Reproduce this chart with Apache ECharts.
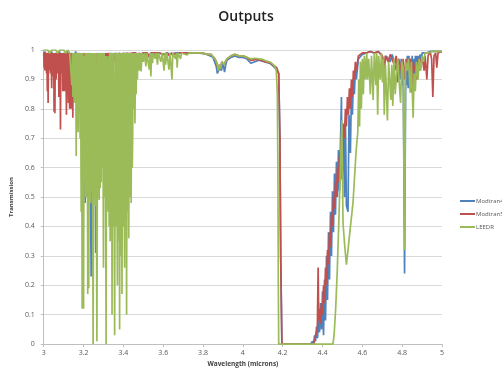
<!DOCTYPE html>
<html><head><meta charset="utf-8">
<script src="https://cdn.jsdelivr.net/npm/echarts@6/dist/echarts.min.js"></script>
<style>html,body{margin:0;padding:0;background:#fff}#c{width:502px;height:373px}</style>
</head><body><div id="c"></div>
<script>
var seriesNames = ["Modtran4", "Modtran5", "LEEDR"];
var xTicks = ["3","3.2","3.4","3.6","3.8","4","4.2","4.4","4.6","4.8","5"];

// Modtran4 [wavelength (microns), transmission]
var modtran4 = [
[3.000,0.995],[3.010,0.97],[3.020,0.99],[3.030,0.96],[3.040,0.995],[3.050,0.95],[3.060,0.99],[3.070,0.96],[3.080,0.995],[3.090,0.95],
[3.100,0.99],[3.110,0.96],[3.120,0.995],[3.130,0.97],[3.140,0.99],[3.150,0.96],[3.160,0.995],[3.170,0.97],[3.180,0.99],[3.190,0.95],
[3.200,0.99],[3.208,0.48],[3.212,0.99],[3.220,0.93],[3.230,0.99],[3.238,0.23],[3.242,0.99],[3.250,0.92],[3.256,0.99],[3.261,0.31],
[3.265,0.99],[3.275,0.94],[3.282,0.99],[3.290,0.79],[3.294,0.99],[3.305,0.95],[3.312,0.99],[3.318,0.6],[3.322,0.99],[3.335,0.68],
[3.340,0.99],[3.350,0.97],[3.36,0.99],[3.37,0.975],[3.38,0.99],[3.39,0.97],[3.40,0.99],[3.41,0.975],[3.42,0.99],[3.43,0.98],
[3.44,0.99],[3.45,0.98],[3.46,0.99],[3.48,0.985],[3.50,0.99],[3.52,0.98],[3.54,0.99],[3.56,0.985],[3.58,0.99],[3.60,0.985],
[3.62,0.99],[3.64,0.985],[3.66,0.99],[3.70,0.99],[3.74,0.99],[3.78,0.99],[3.82,0.985],[3.85,0.975],[3.866,0.945],[3.872,0.92],
[3.878,0.915],[3.884,0.94],[3.892,0.93],[3.90,0.955],[3.908,0.925],[3.914,0.95],[3.92,0.965],[3.93,0.97],[3.94,0.975],[3.96,0.98],
[3.98,0.975],[4.00,0.975],[4.02,0.97],[4.03,0.965],[4.04,0.955],[4.05,0.955],[4.06,0.96],[4.07,0.962],[4.08,0.965],[4.10,0.962],
[4.12,0.958],[4.14,0.953],[4.15,0.948],[4.16,0.94],[4.17,0.935],[4.18,0.92],[4.186,0.7],[4.19,0.3],[4.196,0.0],[4.34,0.0],
[4.35,0.01],[4.355,0.0],[4.36,0.03],[4.365,0.01],[4.37,0.06],[4.375,0.02],[4.38,0.1],[4.385,0.04],[4.39,0.14],[4.395,0.05],
[4.40,0.18],[4.405,0.03],[4.41,0.22],[4.415,0.08],[4.42,0.3],[4.425,0.15],[4.43,0.38],[4.435,0.22],[4.44,0.45],[4.445,0.3],
[4.45,0.52],[4.455,0.38],[4.46,0.58],[4.465,0.44],[4.47,0.62],[4.475,0.5],[4.48,0.66],[4.485,0.52],[4.49,0.68],[4.495,0.84],
[4.498,0.56],[4.505,0.72],[4.51,0.5],[4.515,0.76],[4.52,0.47],[4.528,0.45],[4.533,0.78],[4.54,0.65],[4.545,0.86],[4.55,0.78],
[4.555,0.9],[4.56,0.85],[4.565,0.94],[4.57,0.9],[4.58,0.97],[4.59,0.975],[4.60,0.985],[4.62,0.99],[4.64,0.995],[4.66,0.99],
[4.68,0.995],[4.70,0.98],[4.71,0.95],[4.72,0.98],[4.74,0.96],[4.75,0.985],[4.77,0.93],[4.78,0.97],[4.79,0.9],[4.795,0.97],
[4.80,0.88],[4.805,0.96],[4.812,0.24],[4.818,0.96],[4.822,0.88],[4.826,0.98],[4.83,0.87],[4.834,0.98],[4.838,0.88],[4.842,0.97],
[4.846,0.87],[4.85,0.98],[4.854,0.89],[4.858,0.97],[4.862,0.88],[4.866,0.98],[4.87,0.9],[4.874,0.98],[4.878,0.91],[4.882,0.98],
[4.886,0.93],[4.89,0.985],[4.895,0.95],[4.90,0.99],[4.92,0.99],[4.94,0.995],[4.96,0.995],[4.98,0.995],[5.00,0.995]
];

// Modtran5 [wavelength (microns), transmission]
var modtran5 = [
[3.000,0.99],[3.002,0.94],[3.004,0.99],[3.006,0.93],[3.008,0.995],[3.010,0.95],[3.012,0.99],[3.014,0.92],[3.016,0.99],[3.018,0.86],
[3.020,0.99],[3.022,0.82],[3.024,0.99],[3.026,0.93],[3.028,0.995],[3.030,0.94],[3.032,0.99],[3.034,0.92],[3.036,0.99],[3.038,0.95],
[3.040,0.87],[3.042,0.99],[3.044,0.93],[3.046,0.99],[3.048,0.91],[3.050,0.99],[3.052,0.79],[3.054,0.99],[3.056,0.785],[3.058,0.99],
[3.060,0.93],[3.062,0.90],[3.064,0.99],[3.066,0.94],[3.068,0.99],[3.070,0.92],[3.072,0.99],[3.074,0.95],[3.076,0.84],[3.078,0.99],
[3.080,0.93],[3.082,0.99],[3.084,0.73],[3.086,0.99],[3.088,0.94],[3.090,0.99],[3.092,0.92],[3.094,0.99],[3.096,0.86],[3.098,0.99],
[3.100,0.94],[3.102,0.99],[3.104,0.86],[3.106,0.99],[3.108,0.93],[3.110,0.99],[3.112,0.92],[3.114,0.78],[3.116,0.99],[3.118,0.94],
[3.120,0.99],[3.122,0.91],[3.124,0.82],[3.126,0.99],[3.128,0.93],[3.130,0.80],[3.132,0.99],[3.134,0.94],[3.136,0.99],[3.138,0.80],
[3.140,0.99],[3.142,0.93],[3.144,0.99],[3.146,0.77],[3.148,0.99],[3.150,0.94],[3.152,0.99],[3.154,0.95],[3.156,0.99],[3.158,0.88],
[3.160,0.99],[3.162,0.96],[3.164,0.99],[3.168,0.97],[3.172,0.99],[3.176,0.95],[3.180,0.99],[3.184,0.93],[3.188,0.99],[3.192,0.90],
[3.196,0.99],[3.200,0.82],[3.204,0.99],[3.208,0.90],[3.211,0.50],[3.214,0.99],[3.218,0.92],[3.222,0.99],[3.226,0.80],[3.230,0.99],
[3.234,0.88],[3.238,0.50],[3.242,0.99],[3.246,0.85],[3.250,0.99],[3.254,0.90],[3.258,0.99],[3.261,0.50],[3.264,0.99],[3.268,0.88],
[3.272,0.99],[3.276,0.92],[3.280,0.99],[3.284,0.90],[3.288,0.99],[3.292,0.95],[3.296,0.99],[3.300,0.93],[3.304,0.99],[3.308,0.90],
[3.312,0.99],[3.315,0.46],[3.318,0.99],[3.322,0.96],[3.326,0.99],[3.330,0.97],[3.334,0.99],[3.338,0.96],[3.342,0.98],[3.346,0.95],
[3.350,0.99],[3.354,0.96],[3.358,0.98],[3.362,0.95],[3.366,0.99],[3.370,0.96],[3.374,0.98],[3.378,0.97],[3.382,0.99],[3.386,0.96],
[3.390,0.98],[3.394,0.97],[3.398,0.99],[3.402,0.97],[3.406,0.99],[3.410,0.98],[3.414,0.99],[3.418,0.97],[3.422,0.99],[3.426,0.98],
[3.430,0.99],[3.434,0.975],[3.438,0.99],[3.442,0.98],[3.446,0.99],[3.450,0.985],[3.46,0.99],[3.47,0.98],[3.48,0.99],[3.49,0.975],
[3.50,0.99],[3.51,0.985],[3.52,0.99],[3.53,0.975],[3.54,0.99],[3.55,0.985],[3.56,0.99],[3.58,0.99],[3.60,0.985],[3.62,0.99],
[3.63,0.98],[3.64,0.99],[3.66,0.985],[3.68,0.99],[3.72,0.99],[3.76,0.99],[3.80,0.99],[3.82,0.985],[3.84,0.985],[3.86,0.97],
[3.870,0.955],[3.876,0.93],[3.882,0.95],[3.888,0.935],[3.894,0.96],[3.900,0.965],[3.906,0.95],[3.912,0.96],[3.92,0.97],[3.93,0.975],
[3.94,0.98],[3.96,0.985],[3.98,0.98],[4.00,0.98],[4.02,0.975],[4.03,0.97],[4.04,0.965],[4.05,0.97],[4.07,0.968],[4.09,0.965],
[4.11,0.96],[4.13,0.958],[4.15,0.95],[4.16,0.945],[4.17,0.94],[4.18,0.92],[4.186,0.7],[4.19,0.3],[4.196,0.0],[4.355,0.0],
[4.36,0.01],[4.365,0.03],[4.37,0.04],[4.374,0.06],[4.378,0.26],[4.381,0.08],[4.385,0.12],[4.39,0.07],[4.395,0.14],[4.40,0.1],
[4.405,0.2],[4.41,0.14],[4.415,0.26],[4.42,0.2],[4.425,0.32],[4.43,0.27],[4.435,0.38],[4.44,0.33],[4.445,0.44],[4.45,0.4],
[4.455,0.5],[4.46,0.46],[4.465,0.55],[4.47,0.5],[4.475,0.6],[4.48,0.55],[4.485,0.64],[4.49,0.6],[4.495,0.7],[4.50,0.64],
[4.505,0.75],[4.51,0.7],[4.515,0.8],[4.52,0.74],[4.525,0.84],[4.53,0.78],[4.535,0.87],[4.54,0.8],[4.545,0.9],[4.55,0.84],
[4.555,0.93],[4.56,0.9],[4.565,0.96],[4.57,0.93],[4.58,0.98],[4.59,0.975],[4.60,0.99],[4.62,0.99],[4.64,0.995],[4.66,0.99],
[4.68,0.995],[4.70,0.98],[4.71,0.93],[4.715,0.98],[4.73,0.96],[4.74,0.985],[4.76,0.95],[4.77,0.98],[4.776,0.89],[4.782,0.97],
[4.79,0.95],[4.80,0.91],[4.805,0.97],[4.812,0.9],[4.82,0.97],[4.83,0.94],[4.84,0.97],[4.85,0.855],[4.855,0.96],[4.865,0.93],
[4.875,0.9],[4.88,0.97],[4.89,0.95],[4.90,0.98],[4.91,0.93],[4.915,0.98],[4.924,0.9],[4.93,0.98],[4.94,0.995],[4.948,0.97],
[4.954,0.84],[4.96,0.98],[4.968,0.99],[4.974,0.94],[4.98,0.99],[4.99,0.995],[5.00,0.995]
];

// LEEDR [wavelength (microns), transmission]
var leedr = [
[3.000,1.0],[3.01,0.995],[3.02,1.0],[3.03,0.99],[3.04,1.0],[3.05,0.995],[3.06,1.0],[3.07,0.99],[3.08,1.0],[3.09,0.995],
[3.10,1.0],[3.11,0.99],[3.12,1.0],[3.13,0.99],[3.136,0.995],[3.1390,0.99],[3.1415,0.88],[3.1440,0.99],[3.1465,0.84],[3.1490,0.99],
[3.1515,0.9],[3.1540,0.99],[3.1565,0.82],[3.1590,0.99],[3.1615,0.86],[3.1630,0.64],[3.1650,0.99],[3.1675,0.78],[3.1700,0.99],[3.1725,0.72],
[3.1750,0.99],[3.1775,0.8],[3.1800,0.99],[3.1825,0.7],[3.1850,0.99],[3.1880,0.45],[3.1900,0.99],[3.1930,0.12],[3.1960,0.99],[3.2000,0.12],
[3.2030,0.98],[3.2060,0.55],[3.2085,0.99],[3.2110,0.5],[3.2135,0.99],[3.2160,0.52],[3.2185,0.99],[3.2210,0.17],[3.2235,0.99],[3.2260,0.19],
[3.2285,0.99],[3.2310,0.5],[3.2335,0.99],[3.2360,0.48],[3.2385,0.99],[3.2410,0.52],[3.2435,0.99],[3.2480,0.0],[3.2520,0.99],[3.2545,0.5],
[3.2570,0.99],[3.2595,0.47],[3.2620,0.99],[3.2670,0.01],[3.2710,0.99],[3.2735,0.5],[3.2760,0.99],[3.2785,0.49],[3.2810,0.99],[3.2835,0.53],
[3.2860,0.99],[3.2885,0.55],[3.2910,0.99],[3.2935,0.6],[3.2960,0.99],[3.3000,0.26],[3.3040,0.99],[3.3080,0.5],[3.3100,0.98],[3.3130,0.0],
[3.3160,0.98],[3.3185,0.5],[3.3210,0.97],[3.3235,0.45],[3.3260,0.98],[3.3285,0.4],[3.3310,0.99],[3.3335,0.35],[3.3360,0.99],[3.3385,0.42],
[3.3410,0.99],[3.3430,0.1],[3.3455,0.99],[3.3480,0.4],[3.3505,0.99],[3.3560,0.03],[3.3600,0.99],[3.3625,0.4],[3.3650,0.99],[3.3700,0.2],
[3.3730,0.99],[3.3755,0.35],[3.3780,0.99],[3.3810,0.05],[3.3840,0.99],[3.3865,0.3],[3.3890,0.99],[3.3930,0.17],[3.3960,0.99],[3.3985,0.4],
[3.4010,0.99],[3.4060,0.26],[3.4090,0.99],[3.4115,0.42],[3.4140,0.99],[3.4160,0.1],[3.4185,0.99],[3.4210,0.45],[3.4235,0.99],[3.4270,0.36],
[3.4300,0.99],[3.4325,0.5],[3.4350,0.99],[3.4390,0.48],[3.4420,0.99],[3.4445,0.6],[3.4465,0.7],[3.4490,0.99],[3.4520,0.8],[3.4550,0.99],
[3.4580,0.75],[3.4610,0.99],[3.4640,0.85],[3.4670,0.99],[3.4700,0.9],[3.4740,0.99],[3.4790,0.93],[3.4830,0.99],[3.4890,0.927],[3.4930,0.99],
[3.5000,0.96],[3.5060,0.99],[3.5130,0.944],[3.5180,0.99],[3.5240,0.96],[3.5300,0.933],[3.5340,0.99],[3.5380,0.91],[3.5420,0.99],[3.5460,0.955],
[3.5500,0.99],[3.5600,0.97],[3.5650,0.99],[3.5710,0.95],[3.5760,0.99],[3.5880,0.96],[3.5950,0.99],[3.6040,0.93],[3.6090,0.99],[3.6120,0.95],
[3.6180,0.99],[3.6290,0.933],[3.6340,0.99],[3.6440,0.9],[3.6480,0.99],[3.6620,0.97],[3.6670,0.99],[3.6700,0.94],[3.6740,0.99],[3.6870,0.97],
[3.6920,0.99],[3.7200,0.983],[3.7300,0.99],[3.7500,0.99],[3.7800,0.99],[3.8000,0.99],[3.8200,0.985],[3.8400,0.985],[3.8600,0.97],[3.8700,0.955],
[3.8760,0.93],[3.8820,0.95],[3.8880,0.935],[3.8940,0.96],[3.9000,0.965],[3.9060,0.95],[3.9120,0.96],[3.9200,0.97],[3.9300,0.975],[3.9400,0.98],
[3.9600,0.985],[3.9800,0.98],[4.0000,0.98],[4.0200,0.975],[4.0400,0.97],[4.0600,0.972],[4.0800,0.97],[4.1000,0.968],[4.1200,0.962],[4.1400,0.958],
[4.1500,0.952],[4.1600,0.945],[4.1680,0.93],[4.1730,0.85],[4.1760,0.6],[4.1780,0.2],[4.1800,0.0],[4.4520,0.0],[4.4580,0.03],[4.4660,0.12],
[4.4740,0.25],[4.4820,0.42],[4.4900,0.6],[4.4970,0.76],[4.5030,0.41],[4.5120,0.33],[4.5200,0.27],[4.5280,0.32],[4.5370,0.38],[4.5450,0.43],
[4.5530,0.48],[4.5610,0.57],[4.5690,0.66],[4.5770,0.72],[4.5820,0.9],[4.5860,0.74],[4.5900,0.96],[4.5950,0.8],[4.6000,0.97],[4.6050,0.85],
[4.6100,0.98],[4.6160,0.9],[4.6220,0.99],[4.6260,0.9],[4.6320,0.97],[4.6400,0.85],[4.6460,0.98],[4.6540,0.83],[4.6600,0.99],[4.6680,0.88],
[4.6720,0.99],[4.6770,0.78],[4.6820,0.98],[4.6900,0.9],[4.6960,0.99],[4.7010,0.89],[4.7060,0.97],[4.7100,0.78],[4.7160,0.95],[4.7260,0.76],
[4.7320,0.96],[4.7430,0.83],[4.7480,0.95],[4.7530,0.81],[4.7590,0.97],[4.7650,0.85],[4.7720,0.92],[4.7780,0.97],[4.7840,0.9],[4.7920,0.82],
[4.7980,0.96],[4.8050,0.94],[4.8120,0.32],[4.8170,0.96],[4.8250,0.93],[4.8320,0.97],[4.8400,0.855],[4.8460,0.96],[4.8550,0.77],[4.8600,0.92],
[4.8660,0.86],[4.8720,0.96],[4.8800,0.9],[4.8850,0.97],[4.8930,0.93],[4.9000,0.98],[4.9070,0.96],[4.9150,0.99],[4.9300,0.99],[4.9500,0.995],
[4.9700,0.995],[5.0000,0.995]
];

var colors = ["#4F81BD", "#C0504D", "#9BBB59"];
var chart = echarts.init(document.getElementById('c'), null, {renderer: 'canvas'});
var lbl = {color: '#595959', fontSize: 7, fontFamily: 'Open Sans'};
function mk(name, data, color) {
  return {name: name, type: 'line', data: data, showSymbol: false, symbol: 'none',
    sampling: null, animation: false, lineStyle: {color: color, width: 1.7}, itemStyle: {color: color}};
}
chart.setOption({
  animation: false,
  backgroundColor: '#ffffff',
  title: {text: 'Outputs', left: 241, top: 5, textAlign: 'center',
    textStyle: {fontFamily: 'Open Sans', fontSize: 14, fontWeight: 600, color: '#222222'}},
  legend: {orient: 'vertical', left: 455, top: 193, itemWidth: 15, itemHeight: 2, itemGap: 7,
    icon: 'rect', data: seriesNames,
    textStyle: {color: '#595959', fontSize: 6, fontFamily: 'Open Sans', padding: [0,0,0,-4]}},
  grid: {left: 38, right: 60, top: 50, bottom: 26},
  xAxis: {type: 'value', min: 3, max: 5, interval: 0.2,
    name: 'Wavelength (microns)', nameLocation: 'middle', nameGap: 15,
    nameTextStyle: {color: '#404040', fontSize: 6.5, fontWeight: 'bold', fontFamily: 'Open Sans'},
    axisLine: {show: true, lineStyle: {color: '#bfbfbf'}},
    axisTick: {show: true, length: 3, lineStyle: {color: '#bfbfbf'}},
    splitLine: {show: false},
    axisLabel: Object.assign({margin: 5, formatter: function(v){ var s = xTicks[Math.round((v-3)/0.2)]; return s === undefined ? '' : s; }}, lbl)},
  yAxis: {type: 'value', min: 0, max: 1, interval: 0.1,
    name: 'Transmission', nameLocation: 'middle', nameGap: 23, nameRotate: 90,
    nameTextStyle: {color: '#404040', fontSize: 6, fontWeight: 'bold', fontFamily: 'Open Sans'},
    axisLine: {show: true, lineStyle: {color: '#bfbfbf'}},
    axisTick: {show: true, length: 3, lineStyle: {color: '#bfbfbf'}},
    splitLine: {show: true, lineStyle: {color: '#d9d9d9', width: 1}},
    axisLabel: Object.assign({margin: 9, formatter: function(v){ return String(Math.round(v*10)/10); }}, lbl)},
  series: [mk(seriesNames[0], modtran4, colors[0]), mk(seriesNames[1], modtran5, colors[1]), mk(seriesNames[2], leedr, colors[2])]
});
</script></body></html>
